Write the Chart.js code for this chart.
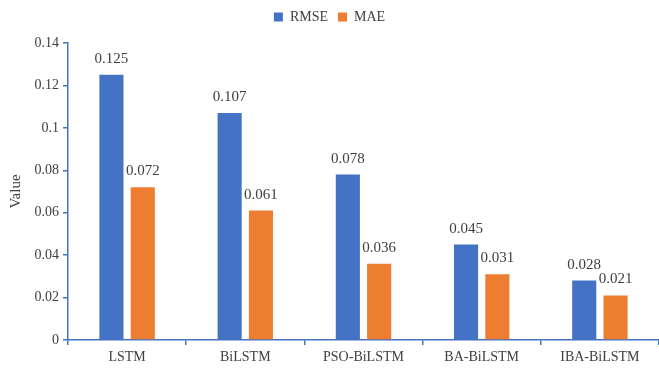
<!DOCTYPE html>
<html>
<head>
<meta charset="utf-8">
<script src="https://cdn.jsdelivr.net/npm/chart.js@4/dist/chart.umd.min.js"></script>
<style>
  html, body { margin: 0; padding: 0; background: #ffffff; }
  #wrap { width: 659px; height: 370px; }
</style>
</head>
<body>
<div id="wrap"><canvas id="c" width="659" height="370"></canvas></div>
<script>
// Model names on the x axis
const models = ['LSTM', 'BiLSTM', 'PSO-BiLSTM', 'BA-BiLSTM', 'IBA-BiLSTM'];
// Error metrics per model
const rmse = [0.125, 0.107, 0.078, 0.045, 0.028];
const mae = [0.072, 0.061, 0.036, 0.031, 0.021];
// Y axis range
const yMin = 0, yMax = 0.14, yStep = 0.02;

const FONT = "'Liberation Serif', 'Times New Roman', serif";
const TEXT = '#404040';
const AXIS = '#4472C4';

// Writes each bar's value above it
const valueLabels = {
  id: 'valueLabels',
  afterDatasetsDraw(chart) {
    const ctx = chart.ctx;
    ctx.save();
    ctx.font = '15px ' + FONT;
    ctx.fillStyle = TEXT;
    ctx.textAlign = 'center';
    ctx.textBaseline = 'alphabetic';
    chart.data.datasets.forEach((ds, i) => {
      chart.getDatasetMeta(i).data.forEach((bar, j) => {
        ctx.fillText(String(ds.data[j]), bar.x, bar.y - 12);
      });
    });
    ctx.restore();
  }
};

// Extra gap between the legend and the plot area
const legendGap = {
  id: 'legendGap',
  beforeInit(chart) {
    const origFit = chart.legend.fit;
    chart.legend.fit = function () {
      origFit.call(this);
      this.height += 9;
    };
  }
};

new Chart(document.getElementById('c'), {
  type: 'bar',
  data: {
    labels: models,
    datasets: [
      { label: 'RMSE', data: rmse, backgroundColor: '#4472C4', categoryPercentage: 0.53, barPercentage: 0.77 },
      { label: 'MAE', data: mae, backgroundColor: '#ED7D31', categoryPercentage: 0.53, barPercentage: 0.77 }
    ]
  },
  options: {
    responsive: false,
    animation: false,
    devicePixelRatio: 1,
    layout: { padding: { top: 0, right: 0, bottom: 0, left: 0 } },
    plugins: {
      legend: {
        position: 'top',
        align: 'center',
        labels: {
          boxWidth: 9,
          boxHeight: 9,
          padding: 10,
          color: TEXT,
          font: { family: FONT, size: 14 }
        }
      },
      tooltip: { enabled: false }
    },
    scales: {
      x: {
        offset: true,
        border: { color: AXIS, width: 1.5 },
        grid: { offset: true, drawOnChartArea: false, drawTicks: true, tickLength: 5, color: AXIS, lineWidth: 1.5 },
        ticks: { color: TEXT, font: { family: FONT, size: 14 }, padding: 4 },
        afterFit(s) { s.height = 30; }
      },
      y: {
        min: yMin,
        max: yMax,
        border: { color: AXIS, width: 1.5 },
        grid: { drawOnChartArea: false, drawTicks: true, tickLength: 5, color: AXIS, lineWidth: 1.5 },
        ticks: {
          stepSize: yStep,
          color: TEXT,
          font: { family: FONT, size: 14 },
          padding: 4,
          callback: v => String(Math.round(v * 100) / 100)
        },
        title: {
          display: true,
          text: 'Value',
          color: TEXT,
          font: { family: FONT, size: 15 },
          padding: { top: 7, bottom: 0 }
        },
        afterFit(s) { s.width = 68; }
      }
    }
  },
  plugins: [valueLabels, legendGap]
});
</script>
</body>
</html>
